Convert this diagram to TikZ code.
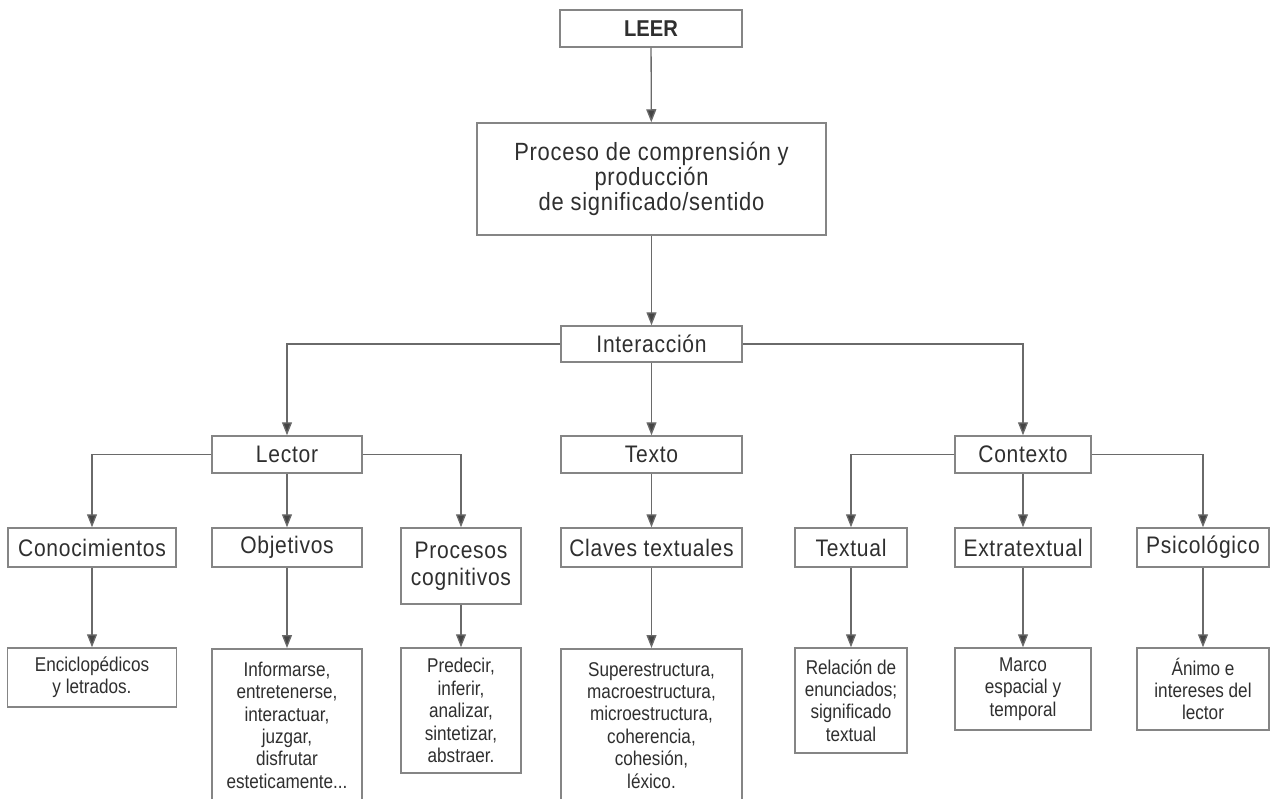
\documentclass[tikz,border=0pt]{standalone}
\usepackage{fontspec}
\setmainfont[FakeStretch=0.88]{Liberation Sans}
\newfontfamily\bigf[FakeStretch=0.88,LetterSpace=3]{Liberation Sans}
\newfontfamily\smallf[FakeStretch=0.86]{Liberation Sans}
\usetikzlibrary{arrows.meta}
\definecolor{txt}{HTML}{2F2F2F}
\definecolor{ln}{HTML}{6A6A6A}
\definecolor{bd}{HTML}{858585}
\definecolor{tip}{HTML}{454545}
\begin{document}
\begin{tikzpicture}[x=1bp,y=-1bp,
  box/.style={draw=bd, line width=1.5bp, fill=white, inner sep=0pt, align=center, text=txt,
              font=\bigf\fontsize{24}{25}\selectfont},
  small/.style={box, font=\smallf\fontsize{20}{22.5}\selectfont},
  conn/.style={draw=ln, line width=1.3bp, -{Triangle[length=13bp,width=10bp,fill=tip]}}]
\useasboundingbox[fill=white] (0,0) rectangle (1272,799);
% level 0-2
\node[box, font=\fontsize{23}{27}\selectfont\bfseries, minimum width=182bp, minimum height=37bp] (leer) at (651,28.5) {LEER};
\node[box, font=\bigf\fontsize{25}{25}\selectfont, minimum width=349bp, minimum height=112bp] (proc) at (651.5,179) {Proceso de comprensión y\\producción\\de significado/sentido};
\node[box, minimum width=181bp, minimum height=36bp] (inter) at (651.5,344) {Interacción};
% level 3
\node[box, minimum width=150bp, minimum height=37bp] (lector) at (287,454.5) {Lector};
\node[box, minimum width=181bp, minimum height=37bp] (texto) at (651.5,454.5) {Texto};
\node[box, minimum width=136bp, minimum height=37bp] (contexto) at (1023,454.5) {Contexto};
% level 4
\node[box, minimum width=168bp, minimum height=39bp] (conoc) at (92,547.5) {Conocimientos};
\node[box, minimum width=150bp, minimum height=39bp] (objet) at (287,547.5) {Objetivos};
\node[box, font=\bigf\fontsize{24}{27}\selectfont, minimum width=120bp, minimum height=76bp] (proces) at (461,566) {Procesos\\cognitivos};
\node[box, minimum width=181bp, minimum height=39bp] (claves) at (651.5,547.5) {Claves textuales};
\node[box, minimum width=112bp, minimum height=39bp] (textual) at (851,547.5) {Textual};
\node[box, minimum width=136bp, minimum height=39bp] (extra) at (1023,547.5) {Extratextual};
\node[box, minimum width=132bp, minimum height=39bp] (psico) at (1203,547.5) {Psicológico};
% level 5
\node[small, minimum width=169bp, minimum height=59bp] (encic) at (92,677.5) {Enciclopédicos\\y letrados.};
\node[small, minimum width=150bp, minimum height=153bp, anchor=north] (inform) at (287,648) {Informarse,\\entretenerse,\\interactuar,\\juzgar,\\disfrutar\\esteticamente...};
\node[small, minimum width=120bp, minimum height=125bp] (predec) at (461,710.5) {Predecir,\\inferir,\\analizar,\\sintetizar,\\abstraer.};
\node[small, minimum width=181bp, minimum height=153bp, anchor=north] (super) at (651.5,648) {Superestructura,\\macroestructura,\\microestructura,\\coherencia,\\cohesión,\\léxico.};
\node[small, minimum width=112bp, minimum height=105bp] (relac) at (851,700.5) {Relación de\\enunciados;\\significado\\textual};
\node[small, minimum width=136bp, minimum height=82bp] (marco) at (1023,689) {Marco\\espacial y\\temporal};
\node[small, minimum width=132bp, minimum height=82bp] (animo) at (1203,689) {Ánimo e\\intereses del\\lector};
% connectors
\draw[conn] (leer) -- (proc);
\draw[conn] (proc) -- (inter);
\draw[conn] (inter.west) -| (lector.north);
\draw[conn] (inter) -- (texto);
\draw[conn] (inter.east) -| (contexto.north);
\draw[conn] (lector.west) -| (conoc.north);
\draw[conn] (lector) -- (objet);
\draw[conn] (lector.east) -| (proces.north);
\draw[conn] (texto) -- (claves);
\draw[conn] (contexto.west) -| (textual.north);
\draw[conn] (contexto) -- (extra);
\draw[conn] (contexto.east) -| (psico.north);
\draw[conn] (conoc) -- (encic);
\draw[conn] (objet) -- (inform);
\draw[conn] (proces) -- (predec);
\draw[conn] (claves) -- (super);
\draw[conn] (textual) -- (relac);
\draw[conn] (extra) -- (marco);
\draw[conn] (psico) -- (animo);
\end{tikzpicture}
\end{document}
